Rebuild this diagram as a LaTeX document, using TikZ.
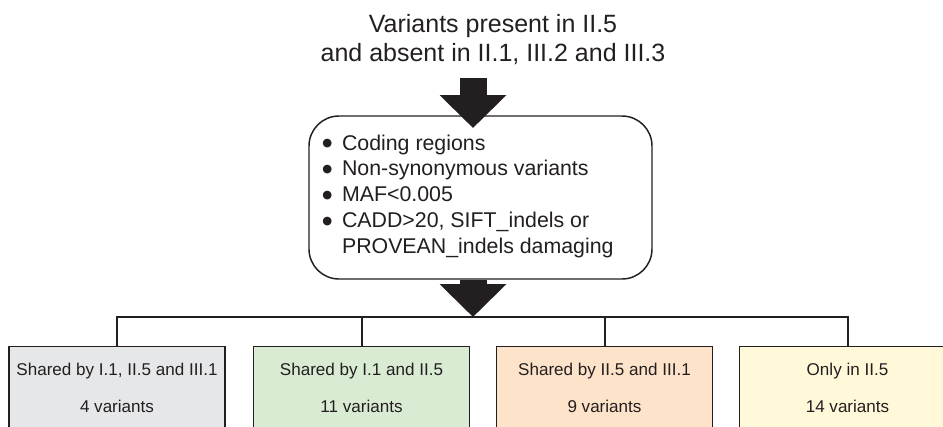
\documentclass[tikz,border=0pt]{standalone}
\usepackage{fontspec}
\setmainfont{Liberation Sans}
\newfontfamily\dotfont{DejaVu Sans}
\usetikzlibrary{arrows.meta}

\definecolor{ink}{HTML}{231F20}
\definecolor{grpgray}{HTML}{E6E7E8}
\definecolor{grpgreen}{HTML}{D9EBD3}
\definecolor{grppeach}{HTML}{FDE3C9}
\definecolor{grpyellow}{HTML}{FFF9D9}

\newcommand{\bigdot}{\raisebox{2.6pt}{\dotfont\fontsize{8.5}{8.5}\selectfont ●}}

\tikzset{
  grp/.style={draw=ink, line width=1.1pt, minimum width=162pt, minimum height=61.5pt,
    anchor=north, align=center, inner sep=0pt, text=ink,
    font=\fontsize{12.8}{27.75}\selectfont},
  tree/.style={draw=ink, line width=1.5pt},
  bigarrow/.style={ink, line width=20.25pt, -{Triangle[length=24.75pt,width=48.75pt]}},
}

\begin{document}
\begin{tikzpicture}[x=0.75pt, y=-0.75pt]
    \clip (0,0) rectangle (943,426);

    \node[align=center, inner sep=0pt, text=ink, font=\fontsize{18.75}{21.75}\selectfont]
        (title) at (493,40) {Variants present in II.5\\and absent in II.1, III.2 and III.3};

    \node[draw=ink, line width=1.1pt, rounded corners=22.5pt, fill=white,
        minimum width=257.25pt, minimum height=122.25pt] (filter) at (480.5,197.5) {};
    \node[anchor=base west, inner sep=0pt, text=ink, font=\fontsize{16}{19.4}\selectfont]
        (crit) at (322,150) {\begin{tabular}[t]{@{}l@{\hspace{7.4pt}}l@{}}
        \bigdot & Coding regions\\
        \bigdot & Non-synonymous variants\\
        \bigdot & MAF<0.005\\
        \bigdot & CADD>20, SIFT\_indels or\\
                & PROVEAN\_indels damaging
        \end{tabular}};

    \node[grp, fill=grpgray]   (g1) at (117,346)   {Shared by I.1, II.5 and III.1\\4 variants};
    \node[grp, fill=grpgreen]  (g2) at (361.5,346) {Shared by I.1 and II.5\\11 variants};
    \node[grp, fill=grppeach]  (g3) at (604.5,346) {Shared by II.5 and III.1\\9 variants};
    \node[grp, fill=grpyellow] (g4) at (847.5,346) {Only in II.5\\14 variants};

    \coordinate (in1) at (473,78);
    \coordinate (in2) at (473,128);
    \coordinate (split) at (473,317);

    \draw[bigarrow] (in1) -- (in2);
    \draw[bigarrow] (filter.south -| split) -- (split);

    \draw[tree] (g1.north) -- (g1.north |- split) -| (g4.north);
    \draw[tree] (g2.north) -- (g2.north |- split);
    \draw[tree] (g3.north) -- (g3.north |- split);
\end{tikzpicture}
\end{document}
